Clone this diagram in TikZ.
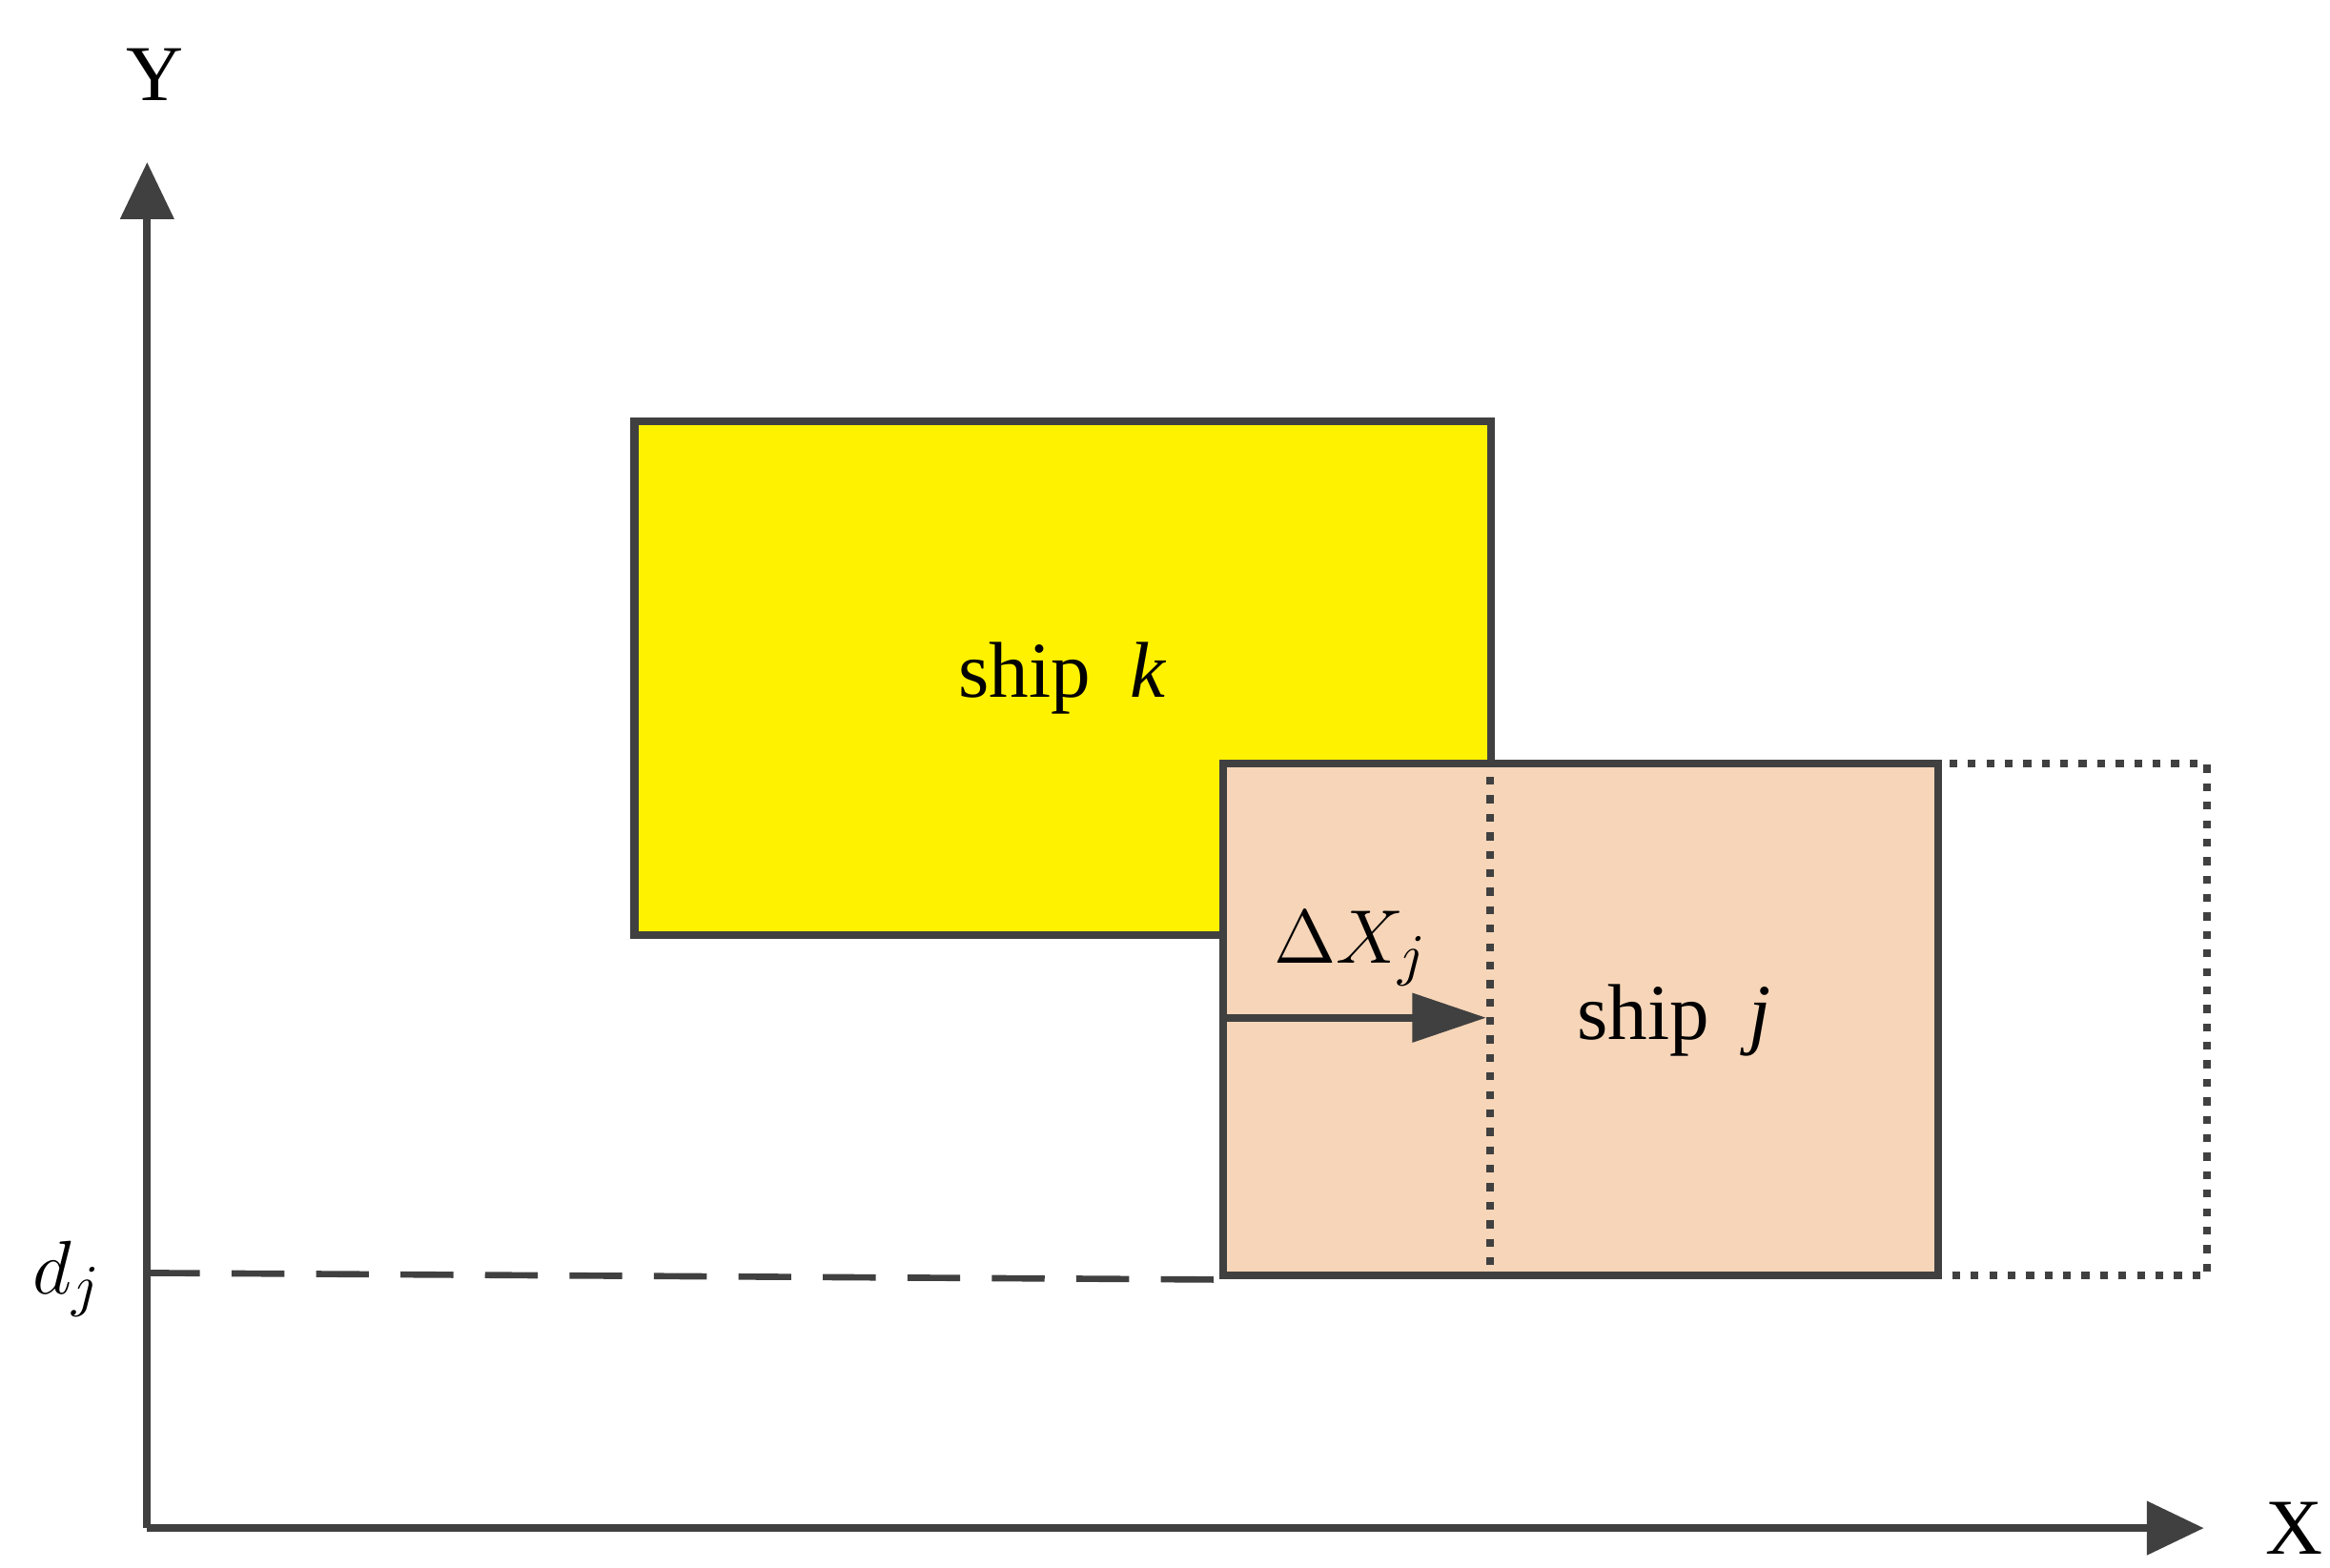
\documentclass[tikz,border=0pt]{standalone}
\usepackage{fontspec}
\setmainfont{Liberation Serif}
\usetikzlibrary{arrows.meta}
\definecolor{ln}{HTML}{404040}
\definecolor{peach}{HTML}{F6D5B8}
\begin{document}
\begin{tikzpicture}[x=0.01cm,y=-0.01cm,
  lw/.style={draw=ln,line width=1.5pt},
  lbl/.style={font=\fontsize{15}{18}\selectfont,inner sep=0pt}]
\useasboundingbox (0,0) rectangle (1552,1044);
\coordinate (o) at (98,1018);
\coordinate (ytip) at (98,108);
\coordinate (xtip) at (1468,1018);
\draw[lw,-{Triangle[length=24pt*0.45,width=22pt*0.45]}] (o) -- (ytip);
\draw[lw,-{Triangle[length=24pt*0.45,width=22pt*0.45]}] (o) -- (xtip);
\node[lbl] (Y) at (103,50) {Y};
\node[lbl] (X) at (1528,1018) {X};
\node[lbl] (dj) at (45,852) {$d_j$};
\node[lw,fill=yellow,minimum width=5.7cm,minimum height=3.42cm,anchor=north west,inner sep=0pt] (k) at (420,278) {};
\node[lbl] at (k.center) {ship \ \textit{k}};
\node[lw,fill=peach,minimum width=4.76cm,minimum height=3.41cm,anchor=north west,inner sep=0pt] (j) at (812,506) {};
\node[draw=ln,line width=1.5pt,dotted,minimum width=4.77cm,minimum height=3.41cm,anchor=north west,inner sep=0pt] (jd) at (990,506) {};
\node[lbl] at (1115,680) {ship \ \textit{j}};
\draw[ln,line width=1.2pt,dash pattern=on 10pt off 6pt] (98,848) -- (j.south west);
\coordinate (a0) at (812,678);
\coordinate (a1) at (990,678);
\draw[lw,-{Triangle[length=14pt,width=9pt]}] (a0) -- (a1);
\node[lbl] (dx) at (900,632) {$\Delta X_j$};
\end{tikzpicture}
\end{document}
